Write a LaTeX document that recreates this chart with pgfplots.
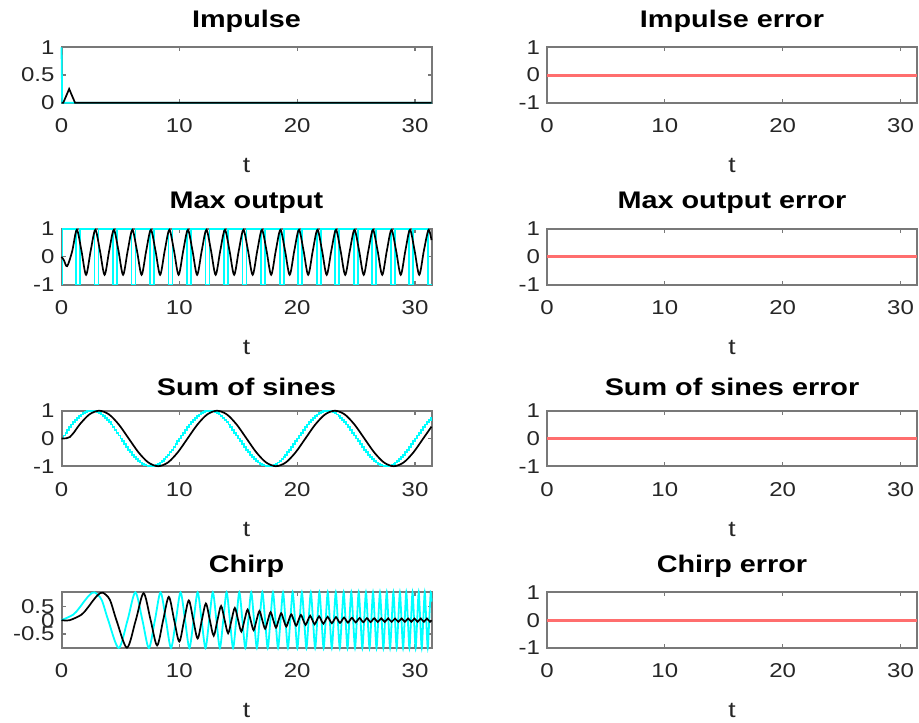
\documentclass[border=0pt]{standalone}
\usepackage{fontspec}
\setmainfont{Liberation Sans}[FakeStretch=1.2]
\usepackage{pgfplots}
\pgfplotsset{compat=1.18}

\definecolor{axgray}{RGB}{120,120,120}
\definecolor{mcyan}{RGB}{0,255,255}
\definecolor{mred}{RGB}{255,110,110}
\definecolor{tickgray}{RGB}{38,38,38}

\pgfplotsset{
  mstyle/.style={
    scale only axis, width=185pt, height=27.75pt,
    anchor=north west,
    xmin=0, xmax=31.4,
    xtick={0,10,20,30}, xticklabels={0,10,20,30},
    tick align=inside, major tick length=2pt,
    axis line style={axgray, line width=1pt},
    every tick/.style={axgray, line width=0.6pt},
    tick label style={font=\fontsize{10}{12}\selectfont, text=tickgray},
    xticklabel style={yshift=-4.5pt},
    title style={font=\fontsize{12}{14}\selectfont\bfseries, yshift=-2pt},
    xlabel={t},
    xlabel style={at={(axis description cs:0.5,0)}, anchor=center, yshift=-31.5pt, font=\fontsize{11}{13}\selectfont, text=tickgray},
    clip=false,
  },
  errstyle/.style={mstyle, ymin=-1, ymax=1, ytick={-1,0,1}, yticklabels={-1,0,1}},
}

\begin{document}
\begin{tikzpicture}
\useasboundingbox (0,0) rectangle (459.5pt,-361pt);

% ---------- Impulse ----------
\begin{axis}[mstyle, at={(30.75pt,-23.65pt)}, title={Impulse},
  ymin=0, ymax=1, ytick={0,0.5,1}, yticklabels={0,0.5,1}]
\addplot[mcyan, line width=0.9pt] coordinates {(0,1)(0.06,0)(31.4,0)};
\addplot[black, line width=0.85pt] coordinates {(0,0)(0.15,0)(0.65,0.25)(1.15,0)(31.4,0)};
\end{axis}

\begin{axis}[errstyle, at={(273.5pt,-23.65pt)}, title={Impulse error}]
\addplot[mred, line width=1.5pt] coordinates {(0,0)(31.4,0)};
\end{axis}

% ---------- Max output ----------
\begin{axis}[mstyle, at={(30.75pt,-114.5pt)}, title={Max output},
  ymin=-1, ymax=1, ytick={-1,0,1}, yticklabels={-1,0,1}]
\addplot[mcyan, line width=0.9pt] coordinates {
(0,-1)(0.08,-1)(0.08,1)
(1.231,1)(1.231,-1)(1.571,-1)(1.571,1)
(2.802,1)(2.802,-1)(3.142,-1)(3.142,1)
(4.372,1)(4.372,-1)(4.712,-1)(4.712,1)
(5.943,1)(5.943,-1)(6.283,-1)(6.283,1)
(7.514,1)(7.514,-1)(7.854,-1)(7.854,1)
(9.085,1)(9.085,-1)(9.425,-1)(9.425,1)
(10.656,1)(10.656,-1)(10.996,-1)(10.996,1)
(12.226,1)(12.226,-1)(12.566,-1)(12.566,1)
(13.797,1)(13.797,-1)(14.137,-1)(14.137,1)
(15.368,1)(15.368,-1)(15.708,-1)(15.708,1)
(16.939,1)(16.939,-1)(17.279,-1)(17.279,1)
(18.510,1)(18.510,-1)(18.850,-1)(18.850,1)
(20.080,1)(20.080,-1)(20.420,-1)(20.420,1)
(21.651,1)(21.651,-1)(21.991,-1)(21.991,1)
(23.222,1)(23.222,-1)(23.562,-1)(23.562,1)
(24.793,1)(24.793,-1)(25.133,-1)(25.133,1)
(26.364,1)(26.364,-1)(26.704,-1)(26.704,1)
(27.934,1)(27.934,-1)(28.274,-1)(28.274,1)
(29.505,1)(29.505,-1)(29.845,-1)(29.845,1)
(31.076,1)(31.076,-1)(31.4,-1)};
\addplot[black, line width=0.85pt, smooth] coordinates {
(0,0)(0.2,-0.12)(0.48,-0.34)(0.907,0.2)(1.300,0.97)(1.693,0.22)(2.085,-0.65)(2.478,0.22)
(2.871,0.97)(3.263,0.22)(3.656,-0.65)(4.049,0.22)(4.442,0.97)(4.834,0.22)(5.227,-0.65)(5.620,0.22)
(6.012,0.97)(6.405,0.22)(6.798,-0.65)(7.190,0.22)(7.583,0.97)(7.976,0.22)(8.369,-0.65)(8.761,0.22)
(9.154,0.97)(9.547,0.22)(9.939,-0.65)(10.332,0.22)(10.725,0.97)(11.117,0.22)(11.510,-0.65)(11.903,0.22)
(12.296,0.97)(12.688,0.22)(13.081,-0.65)(13.474,0.22)(13.866,0.97)(14.259,0.22)(14.652,-0.65)(15.044,0.22)
(15.437,0.97)(15.830,0.22)(16.223,-0.65)(16.615,0.22)(17.008,0.97)(17.401,0.22)(17.793,-0.65)(18.186,0.22)
(18.579,0.97)(18.971,0.22)(19.364,-0.65)(19.757,0.22)(20.150,0.97)(20.542,0.22)(20.935,-0.65)(21.328,0.22)
(21.720,0.97)(22.113,0.22)(22.506,-0.65)(22.898,0.22)(23.291,0.97)(23.684,0.22)(24.077,-0.65)(24.469,0.22)
(24.862,0.97)(25.255,0.22)(25.647,-0.65)(26.040,0.22)(26.433,0.97)(26.825,0.22)(27.218,-0.65)(27.611,0.22)
(28.004,0.97)(28.396,0.22)(28.789,-0.65)(29.182,0.22)(29.574,0.97)(29.967,0.22)(30.360,-0.65)(30.752,0.22)
(31.145,0.97)(31.4,0.6)};
\end{axis}

\begin{axis}[errstyle, at={(273.5pt,-114.5pt)}, title={Max output error}]
\addplot[mred, line width=1.5pt] coordinates {(0,0)(31.4,0)};
\end{axis}

% ---------- Sum of sines ----------
\begin{axis}[mstyle, at={(30.75pt,-205.35pt)}, title={Sum of sines},
  ymin=-1, ymax=1, ytick={-1,0,1}, yticklabels={-1,0,1}]
\addplot[mcyan, line width=0.9pt, const plot] coordinates {
(0,0)(0.167,0.1045)(0.333,0.2079)(0.5,0.3090)(0.667,0.4067)(0.833,0.5)(1,0.5878)(1.167,0.6691)
(1.333,0.7431)(1.5,0.8090)(1.667,0.8660)(1.833,0.9135)(2,0.9511)(2.167,0.9781)(2.333,0.9945)(2.5,1)
(2.667,0.9945)(2.833,0.9781)(3,0.9511)(3.167,0.9135)(3.333,0.8660)(3.5,0.8090)(3.667,0.7431)(3.833,0.6691)
(4,0.5878)(4.167,0.5)(4.333,0.4067)(4.5,0.3090)(4.667,0.2079)(4.833,0.1045)
(5,0)(5.167,-0.1045)(5.333,-0.2079)(5.5,-0.3090)(5.667,-0.4067)(5.833,-0.5)(6,-0.5878)(6.167,-0.6691)
(6.333,-0.7431)(6.5,-0.8090)(6.667,-0.8660)(6.833,-0.9135)(7,-0.9511)(7.167,-0.9781)(7.333,-0.9945)(7.5,-1)
(7.667,-0.9945)(7.833,-0.9781)(8,-0.9511)(8.167,-0.9135)(8.333,-0.8660)(8.5,-0.8090)(8.667,-0.7431)(8.833,-0.6691)
(9,-0.5878)(9.167,-0.5)(9.333,-0.4067)(9.5,-0.3090)(9.667,-0.2079)(9.833,-0.1045)
(10,0)(10.167,0.1045)(10.333,0.2079)(10.5,0.3090)(10.667,0.4067)(10.833,0.5)(11,0.5878)(11.167,0.6691)
(11.333,0.7431)(11.5,0.8090)(11.667,0.8660)(11.833,0.9135)(12,0.9511)(12.167,0.9781)(12.333,0.9945)(12.5,1)
(12.667,0.9945)(12.833,0.9781)(13,0.9511)(13.167,0.9135)(13.333,0.8660)(13.5,0.8090)(13.667,0.7431)(13.833,0.6691)
(14,0.5878)(14.167,0.5)(14.333,0.4067)(14.5,0.3090)(14.667,0.2079)(14.833,0.1045)
(15,0)(15.167,-0.1045)(15.333,-0.2079)(15.5,-0.3090)(15.667,-0.4067)(15.833,-0.5)(16,-0.5878)(16.167,-0.6691)
(16.333,-0.7431)(16.5,-0.8090)(16.667,-0.8660)(16.833,-0.9135)(17,-0.9511)(17.167,-0.9781)(17.333,-0.9945)(17.5,-1)
(17.667,-0.9945)(17.833,-0.9781)(18,-0.9511)(18.167,-0.9135)(18.333,-0.8660)(18.5,-0.8090)(18.667,-0.7431)(18.833,-0.6691)
(19,-0.5878)(19.167,-0.5)(19.333,-0.4067)(19.5,-0.3090)(19.667,-0.2079)(19.833,-0.1045)
(20,0)(20.167,0.1045)(20.333,0.2079)(20.5,0.3090)(20.667,0.4067)(20.833,0.5)(21,0.5878)(21.167,0.6691)
(21.333,0.7431)(21.5,0.8090)(21.667,0.8660)(21.833,0.9135)(22,0.9511)(22.167,0.9781)(22.333,0.9945)(22.5,1)
(22.667,0.9945)(22.833,0.9781)(23,0.9511)(23.167,0.9135)(23.333,0.8660)(23.5,0.8090)(23.667,0.7431)(23.833,0.6691)
(24,0.5878)(24.167,0.5)(24.333,0.4067)(24.5,0.3090)(24.667,0.2079)(24.833,0.1045)
(25,0)(25.167,-0.1045)(25.333,-0.2079)(25.5,-0.3090)(25.667,-0.4067)(25.833,-0.5)(26,-0.5878)(26.167,-0.6691)
(26.333,-0.7431)(26.5,-0.8090)(26.667,-0.8660)(26.833,-0.9135)(27,-0.9511)(27.167,-0.9781)(27.333,-0.9945)(27.5,-1)
(27.667,-0.9945)(27.833,-0.9781)(28,-0.9511)(28.167,-0.9135)(28.333,-0.8660)(28.5,-0.8090)(28.667,-0.7431)(28.833,-0.6691)
(29,-0.5878)(29.167,-0.5)(29.333,-0.4067)(29.5,-0.3090)(29.667,-0.2079)(29.833,-0.1045)
(30,0)(30.167,0.1045)(30.333,0.2079)(30.5,0.3090)(30.667,0.4067)(30.833,0.5)(31,0.5878)(31.167,0.6691)
(31.333,0.7431)(31.4,0.7431)};
\addplot[black, line width=0.85pt, smooth] coordinates {
(0,0)(0.4,0.005)(0.7,0.05)(1.1,0.24)(1.533,0.5)(2.367,0.866)(3.2,1)(4.033,0.866)(4.867,0.5)
(5.7,0)(6.533,-0.5)(7.367,-0.866)(8.2,-1)(9.033,-0.866)(9.867,-0.5)(10.7,0)(11.533,0.5)
(12.367,0.866)(13.2,1)(14.033,0.866)(14.867,0.5)(15.7,0)(16.533,-0.5)(17.367,-0.866)(18.2,-1)
(19.033,-0.866)(19.867,-0.5)(20.7,0)(21.533,0.5)(22.367,0.866)(23.2,1)(24.033,0.866)(24.867,0.5)
(25.7,0)(26.533,-0.5)(27.367,-0.866)(28.2,-1)(29.033,-0.866)(29.867,-0.5)(30.7,0)(31.4,0.426)};
\end{axis}

\begin{axis}[errstyle, at={(273.5pt,-205.35pt)}, title={Sum of sines error}]
\addplot[mred, line width=1.5pt] coordinates {(0,0)(31.4,0)};
\end{axis}

% ---------- Chirp ----------
\begin{axis}[mstyle, at={(30.75pt,-296.2pt)}, title={Chirp},
  ymin=-0.999, ymax=0.999, ytick={-0.5,0,0.5}, yticklabels={-0.5,0,0.5}]
\addplot[mcyan, line width=0.9pt, smooth] coordinates {
(0,0)(1,0.199)(1.5,0.435)(2,0.717)(2.4,0.913)(2.802,1)(3.4,0.737)(3.963,0)(4.854,-1)
(5.605,0)(6.267,1)(6.865,0)(7.415,-1)(7.927,0)(8.407,1)(8.862,0)(9.295,-1)
(9.708,0)(10.105,1)(10.486,0)(10.854,-1)(11.210,0)(11.555,1)(11.890,0)(12.216,-1)
(12.533,0)(12.843,1)(13.145,0)(13.440,-1)(13.729,0)(14.012,1)(14.290,0)(14.562,-1)
(14.829,0)(15.092,1)(15.350,0)(15.604,-1)(15.853,0)(16.099,1)(16.341,0)(16.580,-1)
(16.815,0)(17.047,1)(17.276,0)(17.502,-1)(17.725,0)(17.945,1)(18.162,0)(18.377,-1)
(18.590,0)(18.800,1)(19.007,0)(19.213,-1)(19.416,0)(19.617,1)(19.817,0)(20.014,-1)
(20.209,0)(20.402,1)(20.594,0)(20.784,-1)(20.972,0)(21.158,1)(21.343,0)(21.526,-1)
(21.708,0)(21.888,1)(22.067,0)(22.244,-1)(22.420,0)(22.594,1)(22.768,0)(22.939,-1)
(23.110,0)(23.279,1)(23.447,0)(23.614,-1)(23.780,0)(23.945,1)(24.108,0)(24.270,-1)
(24.432,0)(24.592,1)(24.751,0)(24.909,-1)(25.066,0)(25.222,1)(25.378,0)(25.532,-1)
(25.685,0)(25.838,1)(25.989,0)(26.140,-1)(26.290,0)(26.439,1)(26.587,0)(26.734,-1)
(26.881,0)(27.026,1)(27.171,0)(27.315,-1)(27.459,0)(27.601,1)(27.743,0)(27.885,-1)
(28.025,0)(28.165,1)(28.304,0)(28.442,-1)(28.580,0)(28.717,1)(28.853,0)(28.989,-1)
(29.124,0)(29.259,1)(29.393,0)(29.526,-1)(29.659,0)(29.791,1)(29.923,0)(30.053,-1)
(30.184,0)(30.314,1)(30.443,0)(30.571,-1)(30.700,0)(30.827,1)(30.954,0)(31.081,-1)
(31.207,0)(31.333,1)(31.4,0.665)};
\addplot[black, line width=0.85pt, smooth] coordinates {
(0,0)(0.7,0)(1.7,0.199)(2.2,0.435)(2.7,0.717)(3.1,0.913)(3.502,0.99)(4.1,0.737)(4.663,0)
(5.554,-0.99)(6.305,0)(6.967,0.97)(7.565,0)(8.115,-0.91)(8.627,0)(9.107,0.84)(9.562,0)
(9.995,-0.77)(10.408,0)(10.805,0.71)(11.186,0)(11.554,-0.66)(11.910,0)(12.255,0.60)(12.590,0)
(12.916,-0.56)(13.233,0)(13.543,0.51)(13.845,0)(14.140,-0.47)(14.429,0)(14.712,0.44)(14.990,0)
(15.262,-0.41)(15.529,0)(15.792,0.38)(16.050,0)(16.304,-0.36)(16.553,0)(16.799,0.33)(17.041,0)
(17.280,-0.31)(17.515,0)(17.747,0.29)(17.976,0)(18.202,-0.27)(18.425,0)(18.645,0.25)(18.862,0)
(19.077,-0.23)(19.290,0)(19.500,0.21)(19.707,0)(19.913,-0.20)(20.116,0)(20.317,0.19)(20.517,0)
(20.714,-0.17)(20.909,0)(21.102,0.16)(21.294,0)(21.484,-0.15)(21.672,0)(21.858,0.14)(22.043,0)
(22.226,-0.13)(22.408,0)(22.588,0.12)(22.767,0)(22.944,-0.11)(23.120,0)(23.294,0.11)(23.468,0)
(23.639,-0.10)(23.810,0)(23.979,0.095)(24.147,0)(24.314,-0.09)(24.480,0)(24.645,0.085)(24.808,0)
(24.970,-0.08)(25.132,0)(25.292,0.078)(25.451,0)(25.609,-0.075)(25.766,0)(25.922,0.072)(26.078,0)
(26.232,-0.07)(26.385,0)(26.538,0.068)(26.689,0)(26.840,-0.066)(26.990,0)(27.139,0.065)(27.287,0)
(27.434,-0.064)(27.581,0)(27.726,0.063)(27.871,0)(28.015,-0.062)(28.159,0)(28.301,0.061)(28.443,0)
(28.585,-0.06)(28.725,0)(28.865,0.06)(29.004,0)(29.142,-0.06)(29.280,0)(29.417,0.06)(29.553,0)
(29.689,-0.06)(29.824,0)(29.959,0.06)(30.093,0)(30.226,-0.06)(30.359,0)(30.491,0.06)(30.623,0)
(30.753,-0.06)(30.884,0)(31.014,0.06)(31.143,0)(31.271,-0.06)(31.4,0)};
\end{axis}

\begin{axis}[errstyle, at={(273.5pt,-296.2pt)}, title={Chirp error}]
\addplot[mred, line width=1.5pt] coordinates {(0,0)(31.4,0)};
\end{axis}

\end{tikzpicture}
\end{document}
